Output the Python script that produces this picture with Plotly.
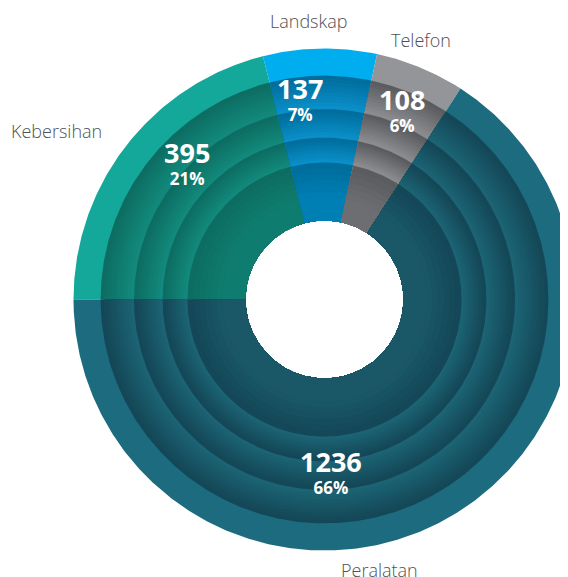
import numpy as np
import plotly.graph_objects as go

# ---------------- data ----------------
categories = ["Kebersihan", "Landskap", "Telefon", "Peralatan"]
values = [395, 137, 108, 1236]
percent_labels = ["21%", "7%", "6%", "66%"]

# ---------------- styling ----------------
outer_colors = ["#14a89a", "#00aeef", "#939598", "#1d6b7e"]
ring_light = ["#12897c", "#0a8fc9", "#8b8c90", "#1c6373"]
ring_dark = ["#0d6d62", "#006d9c", "#5b5c60", "#144757"]
core_light = ["#0f7c70", "#007fb5", "#6d6e72", "#1a5868"]

HOLE = 79 / 251
EDGES = [0.546, 0.645, 0.759, 0.892, 1.0]   # ring outer radii (outer radius = 1)
START_ANGLE = 270.0                          # compass degrees, clockwise
STEPS = 10

# label placement (compass angle, radius) for value labels and category names
value_label_pos = [(314.4, 0.768), (353.0, 0.797), (22.4, 0.806), (178.0, 0.694)]
name_label_pos = [(302.2, 1.26), (356.8, 1.112), (20.5, 1.103), (168.5, 1.098)]

PAGE_OFFSET = 8                # default body margin of the html page
W, H = 568 - PAGE_OFFSET, 577 - PAGE_OFFSET
SCALE = 251.0
CX, CY = 324.5 - PAGE_OFFSET, 299.5 - PAGE_OFFSET


def hex2rgb(h):
    h = h.lstrip("#")
    return np.array([int(h[i:i + 2], 16) for i in (0, 2, 4)], dtype=float)


def mix(c1, c2, t):
    c = hex2rgb(c1) * (1 - t) + hex2rgb(c2) * t
    return "rgb(%d,%d,%d)" % tuple(np.round(c).astype(int))


def sector(r0, r1, a0, a1):
    n = max(4, int(abs(a1 - a0) * 2) + 2)
    t = np.radians(np.linspace(a0, a1, n))
    xo, yo = r1 * np.sin(t), r1 * np.cos(t)
    xi, yi = r0 * np.sin(t[::-1]), r0 * np.cos(t[::-1])
    x = np.concatenate([xo, xi, xo[:1]])
    y = np.concatenate([yo, yi, yo[:1]])
    return x, y


fig = go.Figure()
total = float(sum(values))
cum = np.concatenate([[0], np.cumsum(values)])


def add_poly(r1, a0, a1, color):
    x, y = sector(HOLE, r1, a0, a1)
    fig.add_trace(go.Scatter(x=x, y=y, mode="lines", fill="toself",
                             fillcolor=color, line=dict(width=0),
                             hoverinfo="skip", showlegend=False))


for i, cat in enumerate(categories):
    a0 = START_ANGLE + 360 * cum[i] / total
    a1 = START_ANGLE + 360 * cum[i + 1] / total
    # outer flat ring
    add_poly(EDGES[-1], a0, a1, outer_colors[i])
    # shaded inner rings, painted from outside in
    for k in range(len(EDGES) - 2, 0, -1):
        r_out, r_in = EDGES[k], EDGES[k - 1]
        for j in range(STEPS):
            t = j / (STEPS - 1)
            r = r_out - (r_out - r_in) * j / STEPS
            add_poly(r, a0, a1, mix(ring_dark[i], ring_light[i], t))
    # innermost core
    r_out = EDGES[0]
    for j in range(STEPS):
        t = j / (STEPS - 1)
        r = r_out - (r_out - HOLE) * j / STEPS
        add_poly(r, a0, a1, mix(ring_dark[i], core_light[i], min(1.0, t * 1.6)))

annotations = []
for i, cat in enumerate(categories):
    ang, rad = value_label_pos[i]
    x, y = rad * np.sin(np.radians(ang)), rad * np.cos(np.radians(ang))
    annotations.append(dict(
        x=x, y=y, showarrow=False, xanchor="center", yanchor="middle", yshift=3,
        text="<span style='font-size:27px'>%d</span><br>%s" % (values[i], percent_labels[i]),
        font=dict(family="Open Sans", size=17, color="white", weight="bold")))
    ang, rad = name_label_pos[i]
    x, y = rad * np.sin(np.radians(ang)), rad * np.cos(np.radians(ang))
    annotations.append(dict(x=x, y=y, text=cat, showarrow=False,
                            xanchor="center", yanchor="middle",
                            font=dict(family="Open Sans", size=18, color="#505153",
                                      weight=300)))

fig.update_layout(
    width=W, height=H,
    margin=dict(l=0, r=0, t=0, b=0),
    paper_bgcolor="white", plot_bgcolor="white",
    showlegend=False,
    xaxis=dict(range=[-CX / SCALE, (W - CX) / SCALE], visible=False, fixedrange=True),
    yaxis=dict(range=[-(H - CY) / SCALE, CY / SCALE], visible=False, fixedrange=True),
    annotations=annotations,
)

fig.write_html("out.html", config={"displayModeBar": False})
